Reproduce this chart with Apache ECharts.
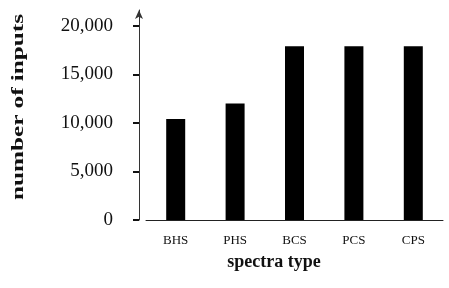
<!DOCTYPE html>
<html>
<head>
<meta charset="utf-8">
<script src="https://cdn.jsdelivr.net/npm/echarts@6/dist/echarts.min.js"></script>
<style>
    html, body { margin: 0; padding: 0; background: #fff; }
    #chart { width: 449px; height: 288px; }
</style>
</head>
<body>
<div id="chart"></div>
<script>
var categories = ["BHS", "PHS", "BCS", "PCS", "CPS"];
var inputs = [10400, 12000, 17900, 17900, 17900];
var yTicks = [0, 5000, 10000, 15000, 20000];

var chart = echarts.init(document.getElementById("chart"));
var serif = "Liberation Serif";

var option = {
    animation: false,
    grid: {
        left: 146,
        right: 6,
        top: 10,
        bottom: 68
    },
    xAxis: {
        type: "category",
        data: categories,
        axisTick: { show: false },
        axisLine: {
            lineStyle: { color: "#222", width: 1 }
        },
        axisLabel: {
            margin: 14,
            color: "#111",
            fontSize: 13,
            fontFamily: serif
        }
    },
    yAxis: {
        type: "value",
        min: 0,
        max: 21650,
        offset: 7,
        splitLine: { show: false },
        axisLine: {
            show: true,
            symbol: ["none", "arrow"],
            symbolSize: [6, 9],
            lineStyle: { color: "#333", width: 1 }
        },
        axisTick: {
            show: true,
            length: 6,
            customValues: yTicks,
            lineStyle: { color: "#111", width: 2 }
        },
        axisLabel: {
            margin: 26,
            customValues: yTicks,
            color: "#111",
            fontSize: 19,
            fontFamily: serif,
            formatter: function (v) {
                return v.toLocaleString("en-US");
            }
        }
    },
    graphic: [
        {
            // y title is stretched along its length in the original
            type: "text",
            x: 19,
            y: 107,
            rotation: Math.PI / 2,
            scaleX: 1.48,
            style: {
                text: "number of inputs",
                fill: "#111",
                font: "bold 17px 'Liberation Serif'",
                textAlign: "center",
                textVerticalAlign: "middle"
            }
        },
        {
            type: "text",
            x: 274,
            y: 262,
            style: {
                text: "spectra type",
                fill: "#111",
                font: "bold 18px 'Liberation Serif'",
                textAlign: "center",
                textVerticalAlign: "middle"
            }
        }
    ],
    series: [
        {
            type: "bar",
            data: inputs,
            barWidth: 19,
            itemStyle: { color: "#000" }
        }
    ]
};
chart.setOption(option);
</script>
</body>
</html>
